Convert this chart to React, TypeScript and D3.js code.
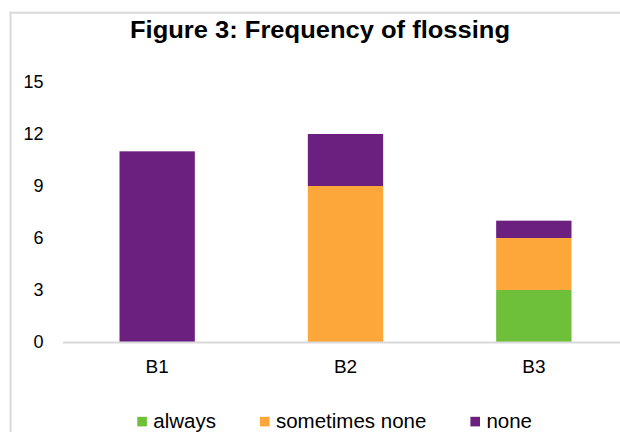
import React, { useEffect, useRef } from "react";
import * as d3 from "d3";

const categories = ["B1", "B2", "B3"];
const seriesNames = ["always", "sometimes none", "none"];
const always = [0, 0, 3];
const sometimesNone = [0, 9, 3];
const none = [11, 3, 1];
const yTicks = [0, 3, 6, 9, 12, 15];
const colors = ["#6ebf3a", "#fda73b", "#6b2080"];
const title = "Figure 3: Frequency of flossing";

const FONT = "'Liberation Sans', Arial, Helvetica, sans-serif";

export default function App() {
  const ref = useRef<SVGSVGElement | null>(null);

  useEffect(() => {
    const svg = d3.select(ref.current);
    svg.selectAll("*").remove();

    const x = d3
      .scaleBand<string>()
      .domain(categories)
      .range([63, 628])
      .paddingInner(0.6)
      .paddingOuter(0.3);
    const y = d3.scaleLinear().domain([0, 15]).range([342, 82]);

    // border (top and left edges visible)
    svg
      .append("line")
      .attr("x1", 9.5)
      .attr("x2", 620)
      .attr("y1", 12.8)
      .attr("y2", 12.8)
      .attr("stroke", "#d9d9d9")
      .attr("stroke-width", 2);
    svg
      .append("line")
      .attr("x1", 10.5)
      .attr("x2", 10.5)
      .attr("y1", 11.8)
      .attr("y2", 432)
      .attr("stroke", "#d9d9d9")
      .attr("stroke-width", 2);

    // title
    svg
      .append("text")
      .attr("x", 320)
      .attr("y", 38)
      .attr("text-anchor", "middle")
      .attr("font-family", FONT)
      .attr("font-weight", "bold")
      .attr("font-size", 23)
      .attr("textLength", 380)
      .attr("lengthAdjust", "spacingAndGlyphs")
      .attr("fill", "#000")
      .text(title);

    // y tick labels
    svg
      .append("g")
      .selectAll("text")
      .data(yTicks)
      .join("text")
      .attr("x", 43.5)
      .attr("y", (d) => y(d))
      .attr("dy", "0.35em")
      .attr("text-anchor", "end")
      .attr("font-family", FONT)
      .attr("font-size", 18)
      .attr("fill", "#000")
      .text((d) => String(d));

    // stacked bars
    const rows = categories.map((c, i) => ({
      cat: c,
      always: always[i],
      "sometimes none": sometimesNone[i],
      none: none[i],
    }));
    const stack = d3.stack<any>().keys(seriesNames)(rows);
    const g = svg.append("g");
    stack.forEach((layer, li) => {
      g.append("g")
        .attr("fill", colors[li])
        .selectAll("rect")
        .data(layer.filter((d) => d[1] - d[0] > 0))
        .join("rect")
        .attr("x", (d) => x(d.data.cat) as number)
        .attr("width", x.bandwidth())
        .attr("y", (d) => y(d[1]))
        .attr("height", (d) => y(d[0]) - y(d[1]));
    });

    // x axis line
    svg
      .append("line")
      .attr("x1", 63)
      .attr("x2", 640)
      .attr("y1", y(0) + 0.5)
      .attr("y2", y(0) + 0.5)
      .attr("stroke", "#d9d9d9")
      .attr("stroke-width", 2);

    // x labels
    svg
      .append("g")
      .selectAll("text")
      .data(categories)
      .join("text")
      .attr("x", (d) => (x(d) as number) + x.bandwidth() / 2)
      .attr("y", 373)
      .attr("text-anchor", "middle")
      .attr("font-family", FONT)
      .attr("font-size", 19)
      .attr("fill", "#000")
      .text((d) => d);

    // legend
    const lg = svg.append("g");
    let cx = 137.3;
    seriesNames.forEach((name, i) => {
      lg.append("rect")
        .attr("x", cx)
        .attr("y", 416.8)
        .attr("width", 9.6)
        .attr("height", 9.6)
        .attr("fill", colors[i]);
      const t = lg
        .append("text")
        .attr("x", cx + 16)
        .attr("y", 428.3)
        .attr("font-family", FONT)
        .attr("font-size", 20.5)
        .attr("fill", "#000")
        .text(name);
      const w = (t.node() as SVGTextElement).getComputedTextLength();
      cx = cx + 16 + w + 44;
    });
  }, []);

  return (
    <svg
      ref={ref}
      width={620}
      height={432}
      style={{ position: "absolute", left: 0, top: 0, background: "#fff" }}
    />
  );
}
